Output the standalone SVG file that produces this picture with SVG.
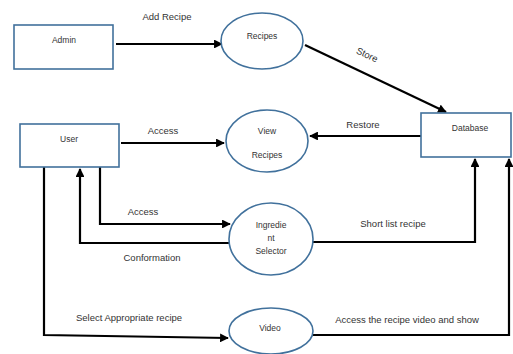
<svg xmlns="http://www.w3.org/2000/svg" width="513" height="354" viewBox="0 0 513 354">
<defs>
<marker id="ah" viewBox="0 0 10 10" refX="9" refY="5" markerWidth="4" markerHeight="4" orient="auto" markerUnits="strokeWidth">
<path d="M0,0 L10,5 L0,10 z" fill="#000"/>
</marker>
<style>
.box{fill:#fff;stroke:#41719c;stroke-width:1.6}
.bub{fill:#fff;stroke:#41719c;stroke-width:1.6}
.nt{font-family:"Liberation Sans",Arial,sans-serif;font-size:8.5px;fill:#333;text-anchor:middle}
.lb{font-family:"Liberation Sans",Arial,sans-serif;font-size:9.5px;fill:#333;text-anchor:middle}
.ln{fill:none;stroke:#000;stroke-width:2.2}
</style>
</defs>
<rect width="513" height="354" fill="#fff"/>
<g id="connectors">
<line class="ln" x1="116" y1="44" x2="222" y2="44" marker-end="url(#ah)"/>
<line class="ln" x1="305" y1="45" x2="446" y2="112" marker-end="url(#ah)"/>
<line class="ln" x1="421" y1="136" x2="310" y2="136" marker-end="url(#ah)"/>
<line class="ln" x1="121" y1="143" x2="224" y2="143" marker-end="url(#ah)"/>
<polyline class="ln" points="100,167 100,224 230,224" marker-end="url(#ah)"/>
<polyline class="ln" points="229,243 80,243 80,169" marker-end="url(#ah)"/>
<polyline class="ln" points="313,242 475,242 475,159" marker-end="url(#ah)"/>
<polyline class="ln" points="313,335 509,335 509,159" marker-end="url(#ah)"/>
<polyline class="ln" points="44,167 44,335 228,338" marker-end="url(#ah)"/>
<text class="lb" x="167" y="20">Add Recipe</text>
<text class="lb" x="367" y="58" transform="rotate(25 367 55)">Store</text>
<text class="lb" x="363" y="128">Restore</text>
<text class="lb" x="163" y="134">Access</text>
<text class="lb" x="143" y="215">Access</text>
<text class="lb" x="152" y="261">Conformation</text>
<text class="lb" x="393" y="227">Short list recipe</text>
<text class="lb" x="407" y="323">Access the recipe video and show</text>
<text class="lb" x="129" y="321">Select Appropriate recipe</text>
</g>
<g id="admin">
<rect class="box" x="14" y="25" width="99" height="44"/>
<text class="nt" x="64" y="43">Admin</text>
</g>
<g id="recipes">
<ellipse class="bub" cx="262" cy="41" rx="41" ry="28"/>
<text class="nt" x="262" y="39">Recipes</text>
</g>
<g id="database">
<rect class="box" x="421" y="113" width="90" height="44"/>
<text class="nt" x="470" y="131">Database</text>
</g>
<g id="user">
<rect class="box" x="20" y="124" width="99" height="43"/>
<text class="nt" x="69" y="142">User</text>
</g>
<g id="view-recipes">
<ellipse class="bub" cx="267" cy="141" rx="41" ry="31"/>
<text class="nt" x="267" y="134">View</text>
<text class="nt" x="267" y="158">Recipes</text>
</g>
<g id="ingredient-selector">
<ellipse class="bub" cx="271" cy="239" rx="42" ry="36"/>
<text class="nt" x="271" y="228">Ingredie</text>
<text class="nt" x="271" y="241">nt</text>
<text class="nt" x="271" y="254">Selector</text>
</g>
<g id="video">
<ellipse class="bub" cx="271" cy="331" rx="42" ry="23"/>
<text class="nt" x="270" y="331">Video</text>
</g>
</svg>
